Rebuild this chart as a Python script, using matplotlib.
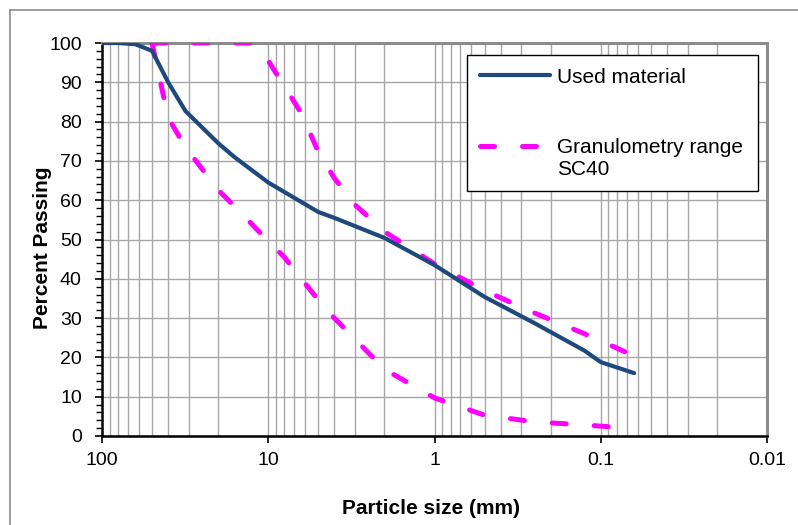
import matplotlib
matplotlib.use("Agg")
import matplotlib.pyplot as plt
from matplotlib.lines import Line2D
from matplotlib.ticker import FixedLocator, NullFormatter, LogLocator

plt.rcParams['font.family'] = ['Liberation Sans', 'DejaVu Sans']

# Used material
used_size = [100, 80, 63, 50, 40, 31.5, 20, 16, 10, 5, 4, 2, 1, 0.5, 0.25, 0.125, 0.1, 0.063]
used_pass = [100, 100, 99.7, 98, 90, 82.7, 74.5, 71, 64.5, 57, 55.5, 50.4, 43.5, 35.4, 28.7, 21.7, 18.8, 16]

# Granulometry range SC40 - upper limit
upper_size = [50, 12.5, 10, 8, 6.3, 5, 4, 3, 2, 1, 0.5, 0.25, 0.125, 0.063]
upper_pass = [100, 100, 95.5, 89, 82, 72.3, 65.6, 58.8, 52, 43.8, 37, 31.3, 26, 20.4]

# Granulometry range SC40 - lower limit
lower_size = [50, 40, 31.5, 20, 16, 10, 8, 5, 4, 2, 1, 0.5, 0.25, 0.125, 0.085]
lower_pass = [100, 81, 73.5, 62.6, 58.5, 49.6, 45.5, 34.6, 30, 17, 9.7, 5.3, 3.6, 2.8, 2.3]

x_ticks = [100, 10, 1, 0.1, 0.01]
x_ticklabels = ['100', '10', '1', '0.1', '0.01']
y_ticks = [0, 10, 20, 30, 40, 50, 60, 70, 80, 90, 100]

navy = '#1F497D'
pink = '#FF00FF'
FS = 14
FL = 15

fig = plt.figure(figsize=(7.98, 5.25), dpi=100)
ax = fig.add_axes([102/798, 1-436/525, (767-102)/798, (436-43)/525])

ax.set_xscale('log')
ax.set_xlim(100, 0.01)
ax.set_ylim(0, 100)

ax.plot(used_size, used_pass, color=navy, lw=3.0, solid_capstyle='round',
        solid_joinstyle='round', label='Used material', zorder=4)
ax.plot(upper_size, upper_pass, color=pink, lw=3.6, dash_capstyle='round',
        dashes=(2.8, 5.6), label='Granulometry range\nSC40', zorder=3)
ax.plot(lower_size, lower_pass, color=pink, lw=3.6, dash_capstyle='round',
        dashes=(2.8, 5.6), zorder=3)

ax.xaxis.set_major_locator(FixedLocator(x_ticks))
ax.set_xticklabels(x_ticklabels)
ax.xaxis.set_minor_locator(LogLocator(base=10, subs=range(2, 10)))
ax.xaxis.set_minor_formatter(NullFormatter())
ax.set_yticks(y_ticks)
ax.yaxis.set_minor_locator(FixedLocator(list(range(0, 101, 2))))

ax.grid(True, which='major', axis='both', color='#a6a6a6', lw=1.0)
ax.grid(True, which='minor', axis='x', color='#a6a6a6', lw=1.0)
ax.set_axisbelow(True)

ax.tick_params(axis='both', which='major', labelsize=FS, direction='out', length=5, width=1.2, color='black')
ax.tick_params(axis='y', which='minor', direction='out', length=4, width=1.0, color='black')
ax.tick_params(axis='x', which='minor', length=0)
ax.tick_params(axis='x', which='major', pad=6.5)
ax.tick_params(axis='y', which='major', pad=9.5)

for s in ['left', 'bottom']:
    ax.spines[s].set_color('black')
    ax.spines[s].set_linewidth(1.8)
for s in ['top', 'right']:
    ax.spines[s].set_color('#8c8c8c')
    ax.spines[s].set_linewidth(2.2)

ax.set_xlabel('Particle size (mm)', fontsize=FL, fontweight='bold')
ax.set_ylabel('Percent Passing', fontsize=FL, fontweight='bold')
ax.xaxis.set_label_coords((431 - 102) / 665, (436 - 499) / 393)
ax.yaxis.set_label_coords((52 - 102) / 665, (436 - 248) / 393)

leg = ax.legend(loc='upper left', bbox_to_anchor=(0.549, 0.62, 0.4376, 0.349), mode='expand',
                fontsize=FL, frameon=True, fancybox=False, edgecolor='black', framealpha=1,
                handlelength=3.4, handletextpad=0.33, labelspacing=2.45,
                borderpad=0.6, borderaxespad=0)
leg.get_frame().set_linewidth(1.0)
# align the dashed handle with the first line of its two-line label
h = leg.legend_handles[1]
h.set_ydata(h.get_ydata() + 8.6)

# figure border (left and top visible)
fig.add_artist(Line2D([10/798, 10/798], [0, 1-10/525], transform=fig.transFigure, color='#8c8c8c', lw=1.2))
fig.add_artist(Line2D([10/798, 1], [1-10/525, 1-10/525], transform=fig.transFigure, color='#8c8c8c', lw=1.2))

fig.savefig('out.png', dpi=100)
